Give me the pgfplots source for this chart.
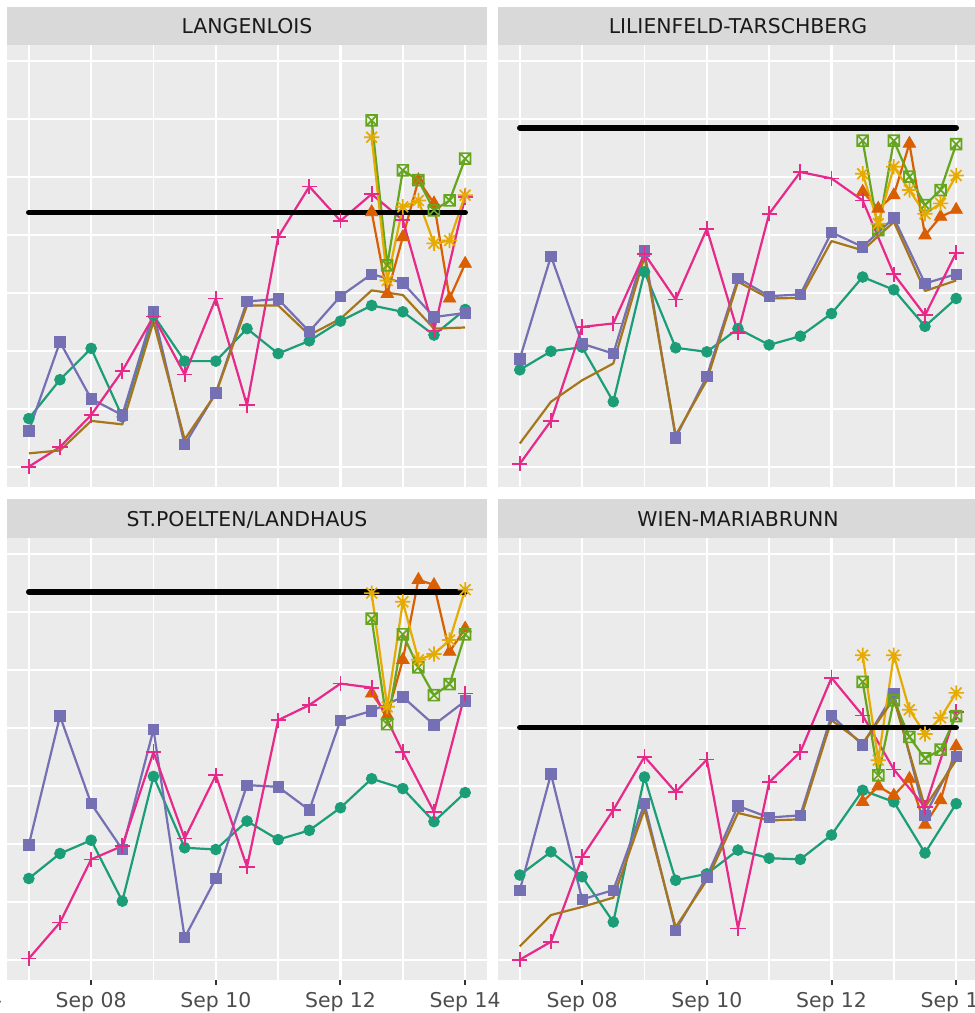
\documentclass[border=0pt]{standalone}
\usepackage{fontspec}
\setmainfont{DejaVu Sans}
\usepackage{pgfplots}
\usepackage{pgfplotstable}
\pgfplotsset{compat=1.18}
\definecolor{cTeal}{HTML}{1B9E77}
\definecolor{cOrange}{HTML}{D95F02}
\definecolor{cPurple}{HTML}{7570B3}
\definecolor{cPink}{HTML}{E7298A}
\definecolor{cGreen}{HTML}{66A61E}
\definecolor{cYellow}{HTML}{E6AB02}
\definecolor{cBrown}{HTML}{A6761D}
\definecolor{panelbg}{HTML}{EBEBEB}
\definecolor{stripbg}{HTML}{D9D9D9}
\definecolor{gray10}{HTML}{1A1A1A}
\definecolor{gray20}{HTML}{333333}
\definecolor{gray30}{HTML}{4D4D4D}

\pgfdeclareplotmark{sqx}{%
 \pgfpathrectangle{\pgfpoint{-\pgfplotmarksize}{-\pgfplotmarksize}}{\pgfpoint{2\pgfplotmarksize}{2\pgfplotmarksize}}%
 \pgfpathmoveto{\pgfpoint{-\pgfplotmarksize}{-\pgfplotmarksize}}\pgfpathlineto{\pgfpoint{\pgfplotmarksize}{\pgfplotmarksize}}%
 \pgfpathmoveto{\pgfpoint{-\pgfplotmarksize}{\pgfplotmarksize}}\pgfpathlineto{\pgfpoint{\pgfplotmarksize}{-\pgfplotmarksize}}%
 \pgfusepathqstroke}
\pgfdeclareplotmark{ast8}{%
 \pgfpathmoveto{\pgfpoint{-\pgfplotmarksize}{0pt}}\pgfpathlineto{\pgfpoint{\pgfplotmarksize}{0pt}}%
 \pgfpathmoveto{\pgfpoint{0pt}{-\pgfplotmarksize}}\pgfpathlineto{\pgfpoint{0pt}{\pgfplotmarksize}}%
 \pgfpathmoveto{\pgfpoint{-0.7071\pgfplotmarksize}{-0.7071\pgfplotmarksize}}\pgfpathlineto{\pgfpoint{0.7071\pgfplotmarksize}{0.7071\pgfplotmarksize}}%
 \pgfpathmoveto{\pgfpoint{-0.7071\pgfplotmarksize}{0.7071\pgfplotmarksize}}\pgfpathlineto{\pgfpoint{0.7071\pgfplotmarksize}{-0.7071\pgfplotmarksize}}%
 \pgfusepathqstroke}

% ---------- data ----------
\pgfplotstableread{
x teal purple pink brown
7.0 0.84 0.63 0.01 0.24
7.5 1.51 2.16 0.35 0.29
8.0 2.05 1.18 0.90 0.80
8.5 0.87 0.90 1.66 0.74
9.0 2.62 2.68 2.60 2.51
9.5 1.83 0.39 1.60 0.48
10.0 1.83 1.28 2.91 1.27
10.5 2.39 2.86 1.07 2.79
11.0 1.96 2.90 3.97 2.79
11.5 2.18 2.34 4.84 2.28
12.0 2.52 2.95 4.25 2.56
12.5 2.79 3.33 4.71 3.05
13.0 2.68 3.18 4.26 2.97
13.5 2.28 2.59 2.36 2.39
14.0 2.72 2.66 4.66 2.41
}\tabA
\pgfplotstableread{
x orange green yellow
12.5 4.40 5.98 5.69
12.75 2.99 3.48 3.22
13.0 3.97 5.12 4.49
13.25 4.95 4.95 4.60
13.5 4.55 4.43 3.86
13.75 2.91 4.60 3.91
14.0 3.51 5.32 4.69
}\lateA
\pgfplotstableread{
x teal purple pink brown
7.0 1.68 1.87 0.06 0.41
7.5 2.00 3.64 0.80 1.13
8.0 2.07 2.13 2.42 1.50
8.5 1.13 1.96 2.48 1.79
9.0 3.37 3.73 3.68 3.63
9.5 2.06 0.51 2.89 0.55
10.0 1.99 1.57 4.11 1.50
10.5 2.39 3.26 2.32 3.20
11.0 2.11 2.95 4.37 2.91
11.5 2.26 2.98 5.09 2.92
12.0 2.65 4.05 4.98 3.90
12.5 3.28 3.80 4.60 3.74
13.0 3.06 4.30 3.33 4.23
13.5 2.43 3.17 2.62 3.04
14.0 2.91 3.33 3.70 3.22
}\tabB
\pgfplotstableread{
x orange green yellow
12.5 4.75 5.63 5.06
12.75 4.46 4.09 4.20
13.0 4.69 5.63 5.18
13.25 5.58 5.01 4.78
13.5 4.00 4.52 4.37
13.75 4.32 4.78 4.55
14.0 4.44 5.57 5.03
}\lateB
\pgfplotstableread{
x teal purple pink
7.0 1.41 1.99 0.03
7.5 1.84 4.21 0.65
8.0 2.07 2.70 1.74
8.5 1.02 1.91 1.97
9.0 3.17 3.98 3.59
9.5 1.94 0.39 2.10
10.0 1.91 1.41 3.19
10.5 2.40 3.02 1.61
11.0 2.08 2.99 4.14
11.5 2.24 2.59 4.40
12.0 2.63 4.14 4.77
12.5 3.13 4.30 4.70
13.0 2.96 4.54 3.59
13.5 2.39 4.06 2.56
14.0 2.89 4.47 4.60
}\tabC
\pgfplotstableread{
x orange green yellow
12.5 4.60 5.89 6.33
12.75 4.22 4.07 4.37
13.0 5.18 5.62 6.18
13.25 6.56 5.05 5.18
13.5 6.47 4.57 5.28
13.75 5.32 4.76 5.52
14.0 5.72 5.62 6.39
}\lateC
\pgfplotstableread{
x teal purple pink brown
7.0 1.47 1.21 0.01 0.24
7.5 1.87 3.21 0.32 0.78
8.0 1.44 1.05 1.78 0.92
8.5 0.66 1.21 2.59 1.08
9.0 3.16 2.70 3.51 2.60
9.5 1.38 0.52 2.90 0.57
10.0 1.49 1.44 3.46 1.38
10.5 1.90 2.66 0.55 2.54
11.0 1.76 2.46 3.07 2.41
11.5 1.74 2.50 3.59 2.43
12.0 2.16 4.22 4.87 4.14
12.5 2.93 3.71 4.22 3.74
13.0 2.73 4.60 3.29 4.51
13.5 1.85 2.50 2.64 2.64
14.0 2.70 3.52 4.28 3.45
}\tabD
\pgfplotstableread{
x orange green yellow
12.5 2.73 4.80 5.26
12.75 3.00 3.19 3.45
13.0 2.84 4.48 5.26
13.25 3.13 3.85 4.32
13.5 2.34 3.48 3.90
13.75 2.76 3.63 4.18
14.0 3.69 4.21 4.61
}\lateD

\pgfplotsset{
 panel/.style={
  scale only axis, width=240pt, height=221pt, anchor=north west,
  xmin=6.65, xmax=14.35, ymin=-0.34, ymax=7.28,
  axis background/.style={fill=panelbg},
  axis line style={draw=none},
  xtick={8,10,12,14}, minor xtick={7,9,11,13},
  ytick={0,2,4,6}, minor ytick={1,3,5,7},
  yticklabels={}, ytick style={draw=none},
  grid=both,
  major grid style={white, line width=1.2pt},
  minor grid style={white, line width=0.8pt},
  minor tick length=0pt,
  xtick pos=bottom, ytick pos=left,
  clip=false,
 },
 toppanel/.style={panel, xticklabels={}, xtick style={draw=none}},
 botpanel/.style={panel,
  xticklabels={Sep 08,Sep 10,Sep 12,Sep 14},
  tick align=outside, major tick length=2.6pt,
  xtick style={gray20, line width=1pt},
  xticklabel style={font=\fontsize{10.2}{12}\selectfont, text=gray30, inner sep=0pt, anchor=north, yshift=-3.6pt},
 },
 ln/.style={no marks, line width=1.1pt, line join=round},
 mTeal/.style={only marks, cTeal, mark=*, mark size=2.7pt},
 mOrange/.style={only marks, cOrange, mark=triangle*, mark size=3.6pt},
 mPurple/.style={only marks, cPurple, mark=square*, mark size=2.6pt},
 mPink/.style={only marks, cPink, mark=+, mark size=3.8pt, mark options={line width=0.85pt}},
 mGreen/.style={only marks, cGreen, mark=sqx, mark size=2.7pt, mark options={line width=0.85pt}},
 mYellow/.style={only marks, cYellow, mark=ast8, mark size=3.8pt, mark options={line width=0.85pt}},
 blk/.style={black, line width=2.8pt, line cap=round, no marks},
}

\newcommand{\stripfont}{\fontsize{10.2}{12}\selectfont\color{gray10}}

\begin{document}
\begin{tikzpicture}
\useasboundingbox (0pt,0pt) rectangle (487.5pt,-506.5pt);
\clip (0pt,0pt) rectangle (487.5pt,-506.5pt);

% strips
\fill[stripbg] (3.5pt,-3.5pt) rectangle (243.5pt,-22.5pt);
\fill[stripbg] (249pt,-3.5pt) rectangle (489pt,-22.5pt);
\fill[stripbg] (3.5pt,-249.5pt) rectangle (243.5pt,-269pt);
\fill[stripbg] (249pt,-249.5pt) rectangle (489pt,-269pt);
\node[anchor=base, inner sep=0pt] at (123.5pt,-16.7pt) {\stripfont LANGENLOIS};
\node[anchor=base, inner sep=0pt] at (369pt,-16.7pt) {\stripfont LILIENFELD-TARSCHBERG};
\node[anchor=base, inner sep=0pt] at (123.5pt,-263.2pt) {\stripfont ST.POELTEN/LANDHAUS};
\node[anchor=base, inner sep=0pt] at (369pt,-263.2pt) {\stripfont WIEN-MARIABRUNN};
\node[anchor=base east, inner sep=0pt] at (1.3pt,-503.3pt) {\fontsize{10.2}{12}\selectfont\color{gray30}Sep 14};

% ---- LANGENLOIS ----
\begin{axis}[toppanel, at={(3.5pt,-22.5pt)}]
\addplot[ln, cTeal] table[x=x,y=teal]{\tabA};
\addplot[ln, cOrange] table[x=x,y=orange]{\lateA};
\addplot[ln, cPurple] table[x=x,y=purple]{\tabA};
\addplot[ln, cPink] table[x=x,y=pink]{\tabA};
\addplot[ln, cGreen] table[x=x,y=green]{\lateA};
\addplot[ln, cYellow] table[x=x,y=yellow]{\lateA};
\addplot[ln, cBrown] table[x=x,y=brown]{\tabA};
\addplot[mTeal] table[x=x,y=teal]{\tabA};
\addplot[mOrange] table[x=x,y=orange]{\lateA};
\addplot[mPurple] table[x=x,y=purple]{\tabA};
\addplot[mPink] table[x=x,y=pink]{\tabA};
\addplot[mGreen] table[x=x,y=green]{\lateA};
\addplot[mYellow] table[x=x,y=yellow]{\lateA};
\addplot[blk] coordinates {(7,4.39) (14,4.39)};
\end{axis}

% ---- LILIENFELD-TARSCHBERG ----
\begin{axis}[toppanel, at={(249pt,-22.5pt)}]
\addplot[ln, cTeal] table[x=x,y=teal]{\tabB};
\addplot[ln, cOrange] table[x=x,y=orange]{\lateB};
\addplot[ln, cPurple] table[x=x,y=purple]{\tabB};
\addplot[ln, cPink] table[x=x,y=pink]{\tabB};
\addplot[ln, cGreen] table[x=x,y=green]{\lateB};
\addplot[ln, cYellow] table[x=x,y=yellow]{\lateB};
\addplot[ln, cBrown] table[x=x,y=brown]{\tabB};
\addplot[mTeal] table[x=x,y=teal]{\tabB};
\addplot[mOrange] table[x=x,y=orange]{\lateB};
\addplot[mPurple] table[x=x,y=purple]{\tabB};
\addplot[mPink] table[x=x,y=pink]{\tabB};
\addplot[mGreen] table[x=x,y=green]{\lateB};
\addplot[mYellow] table[x=x,y=yellow]{\lateB};
\addplot[blk] coordinates {(7,5.85) (14,5.85)};
\end{axis}

% ---- ST.POELTEN/LANDHAUS ----
\begin{axis}[botpanel, at={(3.5pt,-269pt)}]
\addplot[ln, cTeal] table[x=x,y=teal]{\tabC};
\addplot[ln, cOrange] table[x=x,y=orange]{\lateC};
\addplot[ln, cPurple] table[x=x,y=purple]{\tabC};
\addplot[ln, cPink] table[x=x,y=pink]{\tabC};
\addplot[ln, cGreen] table[x=x,y=green]{\lateC};
\addplot[ln, cYellow] table[x=x,y=yellow]{\lateC};
\addplot[mTeal] table[x=x,y=teal]{\tabC};
\addplot[mOrange] table[x=x,y=orange]{\lateC};
\addplot[mPurple] table[x=x,y=purple]{\tabC};
\addplot[mPink] table[x=x,y=pink]{\tabC};
\addplot[mGreen] table[x=x,y=green]{\lateC};
\addplot[mYellow] table[x=x,y=yellow]{\lateC};
\addplot[blk] coordinates {(7,6.35) (14,6.35)};
\end{axis}

% ---- WIEN-MARIABRUNN ----
\begin{axis}[botpanel, at={(249pt,-269pt)}]
\addplot[ln, cTeal] table[x=x,y=teal]{\tabD};
\addplot[ln, cOrange] table[x=x,y=orange]{\lateD};
\addplot[ln, cPurple] table[x=x,y=purple]{\tabD};
\addplot[ln, cPink] table[x=x,y=pink]{\tabD};
\addplot[ln, cGreen] table[x=x,y=green]{\lateD};
\addplot[ln, cYellow] table[x=x,y=yellow]{\lateD};
\addplot[ln, cBrown] table[x=x,y=brown]{\tabD};
\addplot[mTeal] table[x=x,y=teal]{\tabD};
\addplot[mOrange] table[x=x,y=orange]{\lateD};
\addplot[mPurple] table[x=x,y=purple]{\tabD};
\addplot[mPink] table[x=x,y=pink]{\tabD};
\addplot[mGreen] table[x=x,y=green]{\lateD};
\addplot[mYellow] table[x=x,y=yellow]{\lateD};
\addplot[blk] coordinates {(7,4.01) (14,4.01)};
\end{axis}
\end{tikzpicture}
\end{document}
